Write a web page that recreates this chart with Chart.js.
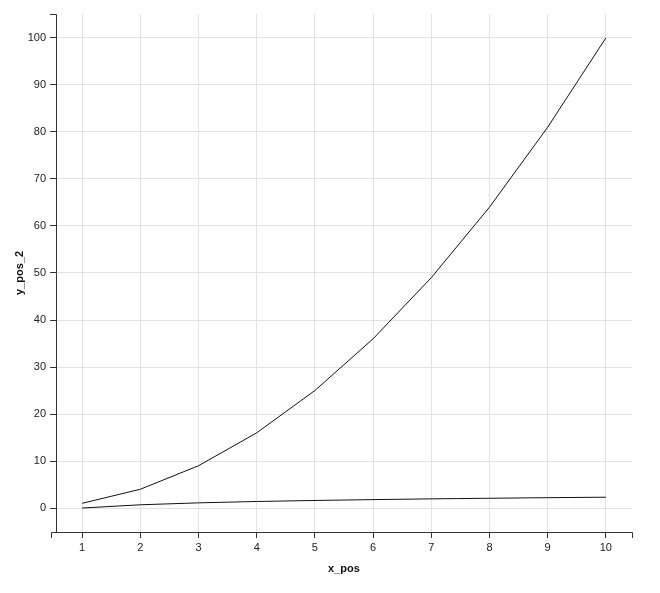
<!DOCTYPE html>
<html>
<head>
<meta charset="utf-8">
<script src="https://cdn.jsdelivr.net/npm/chart.js@4"></script>
<style>
  html, body { margin: 0; padding: 0; background: #fff; }
  canvas { display: block; }
</style>
</head>
<body>
<canvas id="c" width="660" height="593"></canvas>
<script>
const xPos = [1, 2, 3, 4, 5, 6, 7, 8, 9, 10];
const yPos2Square = [1, 4, 9, 16, 25, 36, 49, 64, 81, 100];
const yPos2Log = [0, 0.69, 1.1, 1.39, 1.61, 1.79, 1.95, 2.08, 2.2, 2.3];
const xTicks = [1, 2, 3, 4, 5, 6, 7, 8, 9, 10];
const yTicks = [0, 10, 20, 30, 40, 50, 60, 70, 80, 90, 100];

const FONT = "'Liberation Sans', Arial, Helvetica, sans-serif";
Chart.defaults.font.family = FONT;
Chart.defaults.font.size = 11;
Chart.defaults.color = '#222';

const axisPlugin = {
  id: 'd3axes',
  afterDraw(chart) {
    const { ctx, chartArea: a } = chart;
    ctx.save();
    ctx.strokeStyle = '#333';
    ctx.lineWidth = 1;
    ctx.beginPath();
    // x domain path with outer ticks
    ctx.moveTo(a.left - 5 + 0.5, a.bottom + 6);
    ctx.lineTo(a.left - 5 + 0.5, a.bottom + 0.5);
    ctx.lineTo(a.right + 0.5, a.bottom + 0.5);
    ctx.lineTo(a.right + 0.5, a.bottom + 6);
    // y domain path with outer tick at top
    ctx.moveTo(a.left - 6, a.top + 0.5);
    ctx.lineTo(a.left + 0.5, a.top + 0.5);
    ctx.lineTo(a.left + 0.5, a.bottom + 0.5);
    ctx.stroke();
    ctx.restore();
  }
};

const toPoints = (xs, ys) => xs.map((x, i) => ({ x, y: ys[i] }));

new Chart(document.getElementById('c'), {
  type: 'line',
  data: {
    datasets: [
      { data: toPoints(xPos, yPos2Square), borderColor: '#111', borderWidth: 1, pointRadius: 0, tension: 0, fill: false },
      { data: toPoints(xPos, yPos2Log), borderColor: '#111', borderWidth: 1, pointRadius: 0, tension: 0, fill: false }
    ]
  },
  options: {
    responsive: false,
    animation: false,
    layout: { padding: { left: 0, top: 14, right: 28, bottom: 0 } },
    plugins: { legend: { display: false }, tooltip: { enabled: false } },
    scales: {
      x: {
        type: 'linear',
        min: 0.55,
        max: 10.45,
        afterBuildTicks: s => { s.ticks = xTicks.map(v => ({ value: v })); },
        afterFit: s => { s.height = 61; },
        grid: { color: '#e2e2e2', tickColor: '#333', tickLength: 6, lineWidth: 1 },
        border: { display: false },
        ticks: { padding: 3, color: '#222', maxRotation: 0, autoSkip: false },
        title: { display: true, text: 'x_pos', font: { weight: 'bold', size: 11 }, color: '#111', padding: { top: 0, bottom: 17 } }
      },
      y: {
        type: 'linear',
        min: -5.1,
        max: 105.1,
        afterBuildTicks: s => { s.ticks = yTicks.map(v => ({ value: v })); },
        afterFit: s => { s.width = 56; },
        grid: { color: '#e2e2e2', tickColor: '#333', tickLength: 6, lineWidth: 1 },
        border: { display: false },
        ticks: { padding: 4, color: '#222', autoSkip: false },
        title: { display: true, text: 'y_pos_2', font: { weight: 'bold', size: 11 }, color: '#111', padding: { top: 13, bottom: 0 } }
      }
    }
  },
  plugins: [axisPlugin]
});
</script>
</body>
</html>
